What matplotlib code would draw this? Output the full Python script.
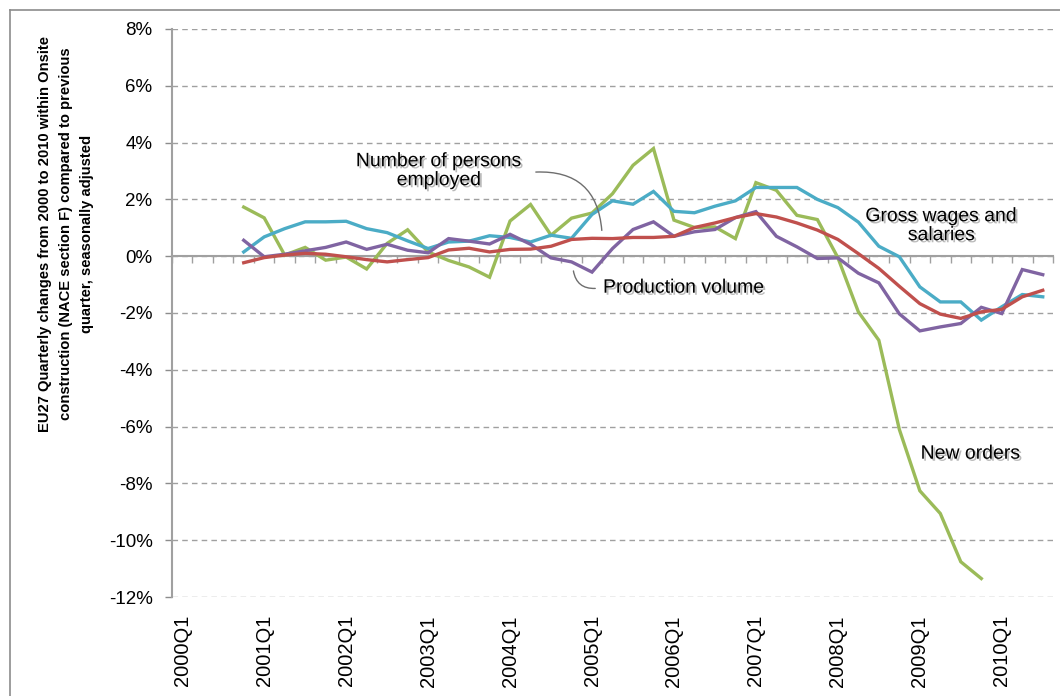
import matplotlib
matplotlib.use("Agg")
import matplotlib.pyplot as plt
import matplotlib.patheffects as pe
from matplotlib.lines import Line2D
import numpy as np

plt.rcParams['font.family'] = ['Liberation Sans', 'DejaVu Sans']

# quarters 2000Q1 .. 2010Q3
quarters = [f"{y}Q{q}" for y in range(2000, 2011) for q in range(1, 5)][:43]

# series start in 2000Q4 (index 3)
new_orders = [1.73, 1.35, 0.04, 0.31, -0.14, -0.03, -0.45, 0.45, 0.93, 0.15,
              -0.15, -0.38, -0.74, 1.24, 1.82, 0.74, 1.34, 1.52, 2.2, 3.2,
              3.79, 1.27, 1.01, 1.03, 0.62, 2.59, 2.32, 1.44, 1.29, -0.05,
              -1.96, -2.96, -6.1, -8.26, -9.06, -10.76, -11.35]
wages = [0.15, 0.68, 0.97, 1.21, 1.21, 1.23, 0.97, 0.83, 0.54, 0.27,
         0.5, 0.53, 0.72, 0.66, 0.5, 0.74, 0.63, 1.47, 1.95, 1.83,
         2.28, 1.58, 1.53, 1.76, 1.95, 2.42, 2.42, 2.42, 2.0, 1.71,
         1.2, 0.35, -0.02, -1.08, -1.61, -1.61, -2.25, -1.78, -1.35, -1.43]
production = [0.56, -0.02, 0.07, 0.19, 0.31, 0.5, 0.24, 0.42, 0.21, 0.12,
              0.62, 0.53, 0.43, 0.77, 0.42, -0.06, -0.2, -0.56, 0.27, 0.94,
              1.21, 0.7, 0.86, 0.94, 1.36, 1.57, 0.7, 0.33, -0.08, -0.06,
              -0.6, -0.94, -2.03, -2.63, -2.49, -2.37, -1.8, -2.02, -0.47, -0.65]
employed = [-0.23, -0.05, 0.04, 0.1, 0.07, -0.02, -0.12, -0.2, -0.12, -0.05,
            0.22, 0.28, 0.15, 0.24, 0.25, 0.35, 0.59, 0.63, 0.62, 0.66,
            0.66, 0.7, 1.01, 1.17, 1.36, 1.5, 1.38, 1.17, 0.92, 0.59,
            0.09, -0.43, -1.06, -1.67, -2.04, -2.19, -1.96, -1.87, -1.43, -1.2]
start = 3

y_ticks = list(range(-12, 9, 2))

fig = plt.figure(figsize=(10.6, 6.96), dpi=100)
ax = fig.add_axes([172 / 1060, 1 - 597 / 696, (1053 - 172) / 1060, (597 - 29) / 696])

# chart area border (left + top)
fig.add_artist(Line2D([10 / 1060, 10 / 1060], [0, 1 - 10 / 696], color='#8c8c8c', lw=1.2))
fig.add_artist(Line2D([10 / 1060, 1], [1 - 10 / 696, 1 - 10 / 696], color='#8c8c8c', lw=1.2))

series = [(new_orders, '#9bbb59'), (wages, '#4bacc6'),
          (production, '#8064a2'), (employed, '#c0504d')]
for vals, col in series:
    x = np.arange(start, start + len(vals))
    ax.plot(x, vals, color=col, lw=2.4, solid_joinstyle='miter', zorder=3)

ax.set_xlim(-0.5, len(quarters) - 0.5)
ax.set_ylim(-12, 8)

ax.set_yticks(y_ticks)
ax.set_yticklabels([f"{v}%" for v in y_ticks], fontsize=13.5)
ax.tick_params(axis='y', direction='out', length=5, width=1, color='#8c8c8c', pad=9)
ax.grid(axis='y', color='#a0a0a0', ls=(0, (4, 3)), lw=1)
ax.set_axisbelow(True)

for s in ['top', 'right']:
    ax.spines[s].set_visible(False)
ax.spines['left'].set_color('#a0a0a0')
ax.spines['left'].set_linewidth(1.5)
ax.spines['bottom'].set_position(('data', 0))
ax.spines['bottom'].set_color('#a0a0a0')
ax.spines['bottom'].set_linewidth(1.5)
ax.spines['bottom'].set_zorder(2)

# category boundary ticks on the zero line
ax.set_xticks(np.arange(len(quarters) + 1) - 0.5)
ax.set_xticklabels([])
ax.tick_params(axis='x', direction='out', length=5, width=1, color='#a0a0a0')

# category labels at the bottom
sec = ax.secondary_xaxis(0)
sec.set_xticks(np.arange(0, len(quarters), 4))
sec.set_xticklabels(quarters[::4], rotation=90, fontsize=14.5)
sec.tick_params(length=0, pad=13)
sec.spines['bottom'].set_visible(False)

fig.text(66 / 1060, 1 - 234 / 696,
         "EU27 Quarterly changes from 2000 to 2010 within Onsite\n"
         "construction (NACE section F) compared to previous\n"
         "quarter, seasonally adjusted",
         rotation=90, ha='center', va='center', multialignment='center',
         fontsize=10.6, fontweight='bold', linespacing=1.6)

shadow = [pe.SimplePatchShadow(offset=(1.5, -1.5), shadow_rgbFace='#777777', alpha=0.5), pe.Normal()]

def px2data(px, py):
    return (px - 182) / 20.5, (256 - py) / 28.4

tx, ty = px2data(439, 171)
ax.text(tx, ty, "Number of persons\nemployed", ha='center', va='center',
        fontsize=14, linespacing=1.15, path_effects=shadow, zorder=5)
ax.annotate('', xy=px2data(602, 233), xytext=px2data(533, 172),
            arrowprops=dict(arrowstyle='-', color='#6e6e6e', lw=1,
                            connectionstyle='arc3,rad=-0.5'))

tx, ty = px2data(603, 288)
ax.text(tx, ty, "Production volume", ha='left', va='center',
        fontsize=14, path_effects=shadow, zorder=5)
ax.annotate('', xy=px2data(573, 268), xytext=px2data(598, 288),
            arrowprops=dict(arrowstyle='-', color='#6e6e6e', lw=1,
                            connectionstyle='arc3,rad=-0.5'))

tx, ty = px2data(942, 226)
ax.text(tx, ty, "Gross wages and\nsalaries", ha='center', va='center',
        fontsize=14, linespacing=1.15, path_effects=shadow, zorder=5)

tx, ty = px2data(971, 454)
ax.text(tx, ty, "New orders", ha='center', va='center',
        fontsize=14, path_effects=shadow, zorder=5)

fig.savefig("out.png", dpi=100)
